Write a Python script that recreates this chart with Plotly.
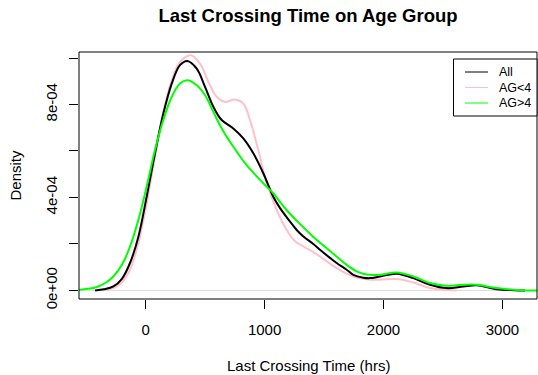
import plotly.graph_objects as go

# ---- data (x in hrs, density in units of 1e-4) ----
all_x = [-426, -350, -272, -200, -132, -62, 8, 78, 148, 219, 288, 350, 429, 499, 569, 639,
         737, 821, 905, 989, 1073, 1130, 1214, 1270, 1326, 1410, 1466, 1550, 1606, 1690, 1746,
         1830, 1886, 1971, 2111, 2251, 2391, 2532, 2671, 2784, 2952, 3100, 3190]
all_y = [0.0, 0.05, 0.17, 0.5, 1.18, 2.3, 4.03, 5.9, 7.6, 8.9, 9.69, 9.87, 9.54, 8.76, 7.9, 7.33,
         6.97, 6.54, 5.9, 5.04, 4.03, 3.54, 2.96, 2.6, 2.32, 2.0, 1.75, 1.4, 1.18, 0.89, 0.67,
         0.55, 0.53, 0.6, 0.72, 0.53, 0.245, 0.10, 0.17, 0.22, 0.05, 0.01, 0.0]

ag_lt4_x = [-412, -340, -272, -200, -132, -62, 8, 78, 148, 219, 288, 378, 457, 527, 597, 667,
            751, 821, 877, 947, 1018, 1102, 1186, 1250, 1326, 1410, 1466, 1550, 1606, 1690,
            1746, 1830, 1886, 1971, 2111, 2251, 2391, 2532, 2616]
ag_lt4_y = [0.0, 0.03, 0.1, 0.35, 0.89, 2.03, 3.75, 5.75, 7.68, 9.04, 9.83, 10.12, 9.76, 8.97,
            8.33, 8.11, 8.21, 8.04, 7.33, 6.04, 4.61, 3.46, 2.6, 2.15, 1.89, 1.65, 1.46, 1.15,
            0.96, 0.72, 0.6, 0.5, 0.46, 0.46, 0.49, 0.34, 0.10, 0.02, 0.0]

ag_gt4_x = [-620, -552, -480, -412, -340, -272, -200, -132, -62, 8, 78, 148, 219, 288, 350,
            429, 499, 569, 639, 737, 849, 989, 1073, 1130, 1186, 1270, 1410, 1550, 1690,
            1775, 1830, 1886, 1971, 2111, 2251, 2391, 2532, 2671, 2784, 2952, 3148, 3300]
ag_gt4_y = [0.0, 0.03, 0.07, 0.15, 0.32, 0.6, 1.1, 1.89, 3.03, 4.46, 6.04, 7.33, 8.33, 8.9,
            9.04, 8.83, 8.4, 7.68, 6.97, 6.18, 5.39, 4.61, 4.18, 3.8, 3.45, 3.0, 2.3,
            1.7, 1.1, 0.82, 0.72, 0.67, 0.67, 0.77, 0.6, 0.32, 0.2, 0.245, 0.245, 0.1, 0.01, 0.0]

series_names = ["All", "AG<4", "AG>4"]
series_colors = ["black", "pink", "#00FF00"]

x_tick_vals = [0, 1000, 2000, 3000]
y_tick_vals = [0, 2e-4, 4e-4, 6e-4, 8e-4, 1e-3]
y_tick_text = ["0e+00", "", "4e-04", "", "8e-04", ""]

FONT = "Liberation Sans, Arial, Helvetica, sans-serif"
SCALE = 1e-4

traces = {}
for xs, ys, name, col in [(all_x, all_y, series_names[0], series_colors[0]),
                          (ag_lt4_x, ag_lt4_y, series_names[1], series_colors[1]),
                          (ag_gt4_x, ag_gt4_y, series_names[2], series_colors[2])]:
    traces[name] = go.Scatter(x=xs, y=[v * SCALE for v in ys], mode="lines", name=name,
                              line=dict(color=col, width=2, shape="spline", smoothing=1.0),
                              showlegend=False, hoverinfo="skip")

fig = go.Figure([traces["AG<4"], traces["All"], traces["AG>4"]])

PL, PR, PT, PB = 79, 537, 52, 299
PW, PH = PR - PL, PB - PT

def px(x):
    return (x - PL) / PW

def py(y):
    return (PB - y) / PH

shapes = [
    dict(type="line", xref="paper", yref="y", x0=0, x1=1, y0=0, y1=0,
         line=dict(color="rgb(220,220,220)", width=1), layer="below"),
    dict(type="rect", xref="paper", yref="paper", x0=0, x1=1, y0=0, y1=1,
         line=dict(color="black", width=1)),
]

# legend (manual, R style)
shapes.append(dict(type="rect", xref="paper", yref="paper", x0=px(453.5), x1=1.0,
                   y0=py(116), y1=py(59), line=dict(color="black", width=1), fillcolor="white"))
annotations = []
item_ys = [72, 87.5, 103]
for yy, name, col in zip(item_ys, series_names, series_colors):
    shapes.append(dict(type="line", xref="paper", yref="paper",
                       x0=px(465), x1=px(488), y0=py(yy), y1=py(yy),
                       line=dict(color=col, width=1)))
    annotations.append(dict(text=name, xref="paper", yref="paper", x=px(497), y=py(yy),
                            xanchor="left", yanchor="middle", showarrow=False,
                            font=dict(family=FONT, size=12.5, color="black")))

annotations.append(dict(text="Last Crossing Time (hrs)", xref="paper", yref="paper",
                        x=0.5, y=py(365), xanchor="center", yanchor="middle",
                        showarrow=False, font=dict(family=FONT, size=15, color="black")))
annotations.append(dict(text="Density", xref="paper", yref="paper",
                        x=px(15), y=0.5, xanchor="center", yanchor="middle",
                        textangle=-90, showarrow=False,
                        font=dict(family=FONT, size=15, color="black")))

fig.update_layout(
    width=538, height=375,
    margin=dict(l=PL, r=538 - PR, t=PT, b=375 - PB),
    paper_bgcolor="white", plot_bgcolor="white",
    title=dict(text="<b>Last Crossing Time on Age Group</b>", x=0.5, xref="paper",
               y=1 - 16 / 375, yref="container", xanchor="center", yanchor="middle",
               font=dict(family=FONT, size=18.5, color="black")),
    shapes=shapes, annotations=annotations,
    showlegend=False,
    xaxis=dict(range=[-561, 3291], tickvals=x_tick_vals, ticks="outside", ticklen=9,
               tickcolor="black", showgrid=False, zeroline=False, showline=False,
               tickfont=dict(family=FONT, size=15, color="black"), ticklabelstandoff=8),
    yaxis=dict(range=[-0.369e-4, 10.258e-4], tickvals=y_tick_vals, ticktext=y_tick_text,
               ticks="outside", ticklen=9, tickcolor="black", showgrid=False, zeroline=False,
               showline=False, tickangle=-90,
               tickfont=dict(family=FONT, size=15, color="black"), ticklabelstandoff=6),
)

fig.write_html("out.html", config={"displayModeBar": False, "staticPlot": True},
               post_script="document.body.style.margin='0px';document.body.style.overflow='hidden';")
